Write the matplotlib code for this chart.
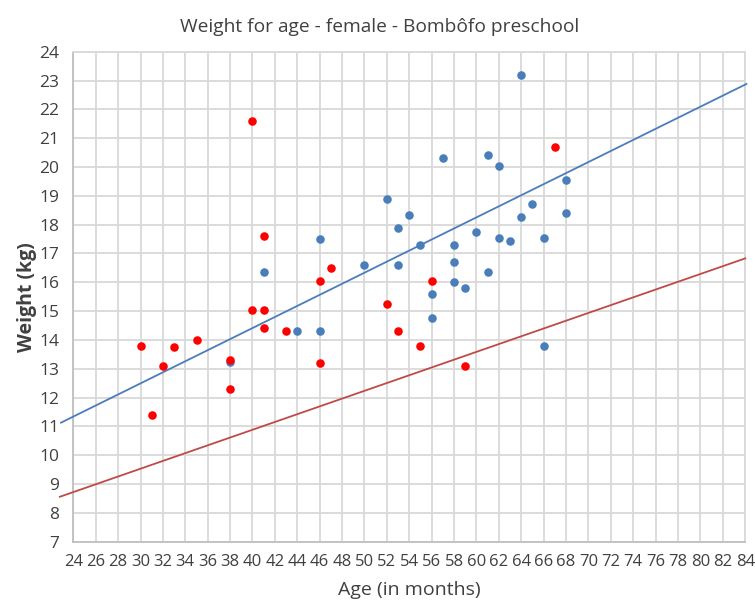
import matplotlib
matplotlib.use('Agg')
import matplotlib.pyplot as plt

# Données
blue_age = [38, 41, 44, 46, 46, 50, 52, 53, 53, 54, 55, 56, 56, 57, 58, 58, 58, 59,
            60, 61, 61, 62, 62, 63, 64, 64, 65, 66, 66, 68, 68]
blue_weight = [13.25, 16.35, 14.3, 17.5, 14.3, 16.6, 18.9, 17.9, 16.6, 18.35, 17.3, 15.6,
               14.75, 20.3, 17.3, 16.7, 16.0, 15.8, 17.75, 20.4, 16.35, 20.05, 17.55,
               17.45, 23.2, 18.25, 18.7, 17.55, 13.8, 19.55, 18.4]

red_age = [30, 31, 32, 33, 35, 38, 38, 40, 40, 41, 41, 41, 43, 46, 46, 47, 52, 53, 55,
           56, 59, 67]
red_weight = [13.8, 11.4, 13.1, 13.75, 14.0, 13.3, 12.3, 21.6, 15.05, 17.6, 15.05, 14.4,
              14.3, 16.05, 13.2, 16.5, 15.25, 14.3, 13.8, 16.05, 13.1, 20.7]

# Lignes de référence (extrémités)
blue_line_age = [22.9, 84.1]
blue_line_weight = [11.13, 22.88]
red_line_age = [22.8, 84.0]
red_line_weight = [8.56, 16.83]

x_ticks = list(range(24, 85, 2))
y_ticks = list(range(7, 25))

plt.rcParams['font.family'] = ['Open Sans', 'DejaVu Sans']

fig = plt.figure(figsize=(7.55, 6.04), dpi=100)
ax = fig.add_axes([0.0971, 0.1031, 0.89, 0.8113])

grid_col = '#d9d9d9'
ax.set_xlim(24, 84)
ax.set_ylim(7, 24)
ax.set_xticks(x_ticks)
ax.set_yticks(y_ticks)
ax.grid(True, color=grid_col, linewidth=1.3)
ax.set_axisbelow(True)
for s in ax.spines.values():
    s.set_color(grid_col)
    s.set_linewidth(1.3)
ax.spines['left'].set_color('#bfbfbf')
ax.spines['bottom'].set_color('#bfbfbf')
ax.tick_params(axis='x', length=0, labelsize=12, labelcolor='#404040', pad=9)
ax.tick_params(axis='y', length=0, labelsize=12.5, labelcolor='#404040', pad=10)

ax.plot(blue_line_age, blue_line_weight, color='#4a7ebb', linewidth=1.3, clip_on=False, zorder=3)
ax.plot(red_line_age, red_line_weight, color='#be4b48', linewidth=1.3, clip_on=False, zorder=3)

ax.scatter(blue_age, blue_weight, s=38, color='#4a7ebb', zorder=4, linewidths=0)
ax.scatter(red_age, red_weight, s=38, color='#ff0000', zorder=5, linewidths=0)

fig.suptitle('Weight for age - female - Bombôfo preschool', x=0.503, y=0.97,
             fontsize=13.8, color='#404040')
ax.set_xlabel('Age (in months)', fontsize=14, color='#404040', labelpad=8)
ax.set_ylabel('Weight (kg)', fontsize=14, color='#404040', fontweight='bold', labelpad=2)

fig.savefig('out.png', dpi=100)
